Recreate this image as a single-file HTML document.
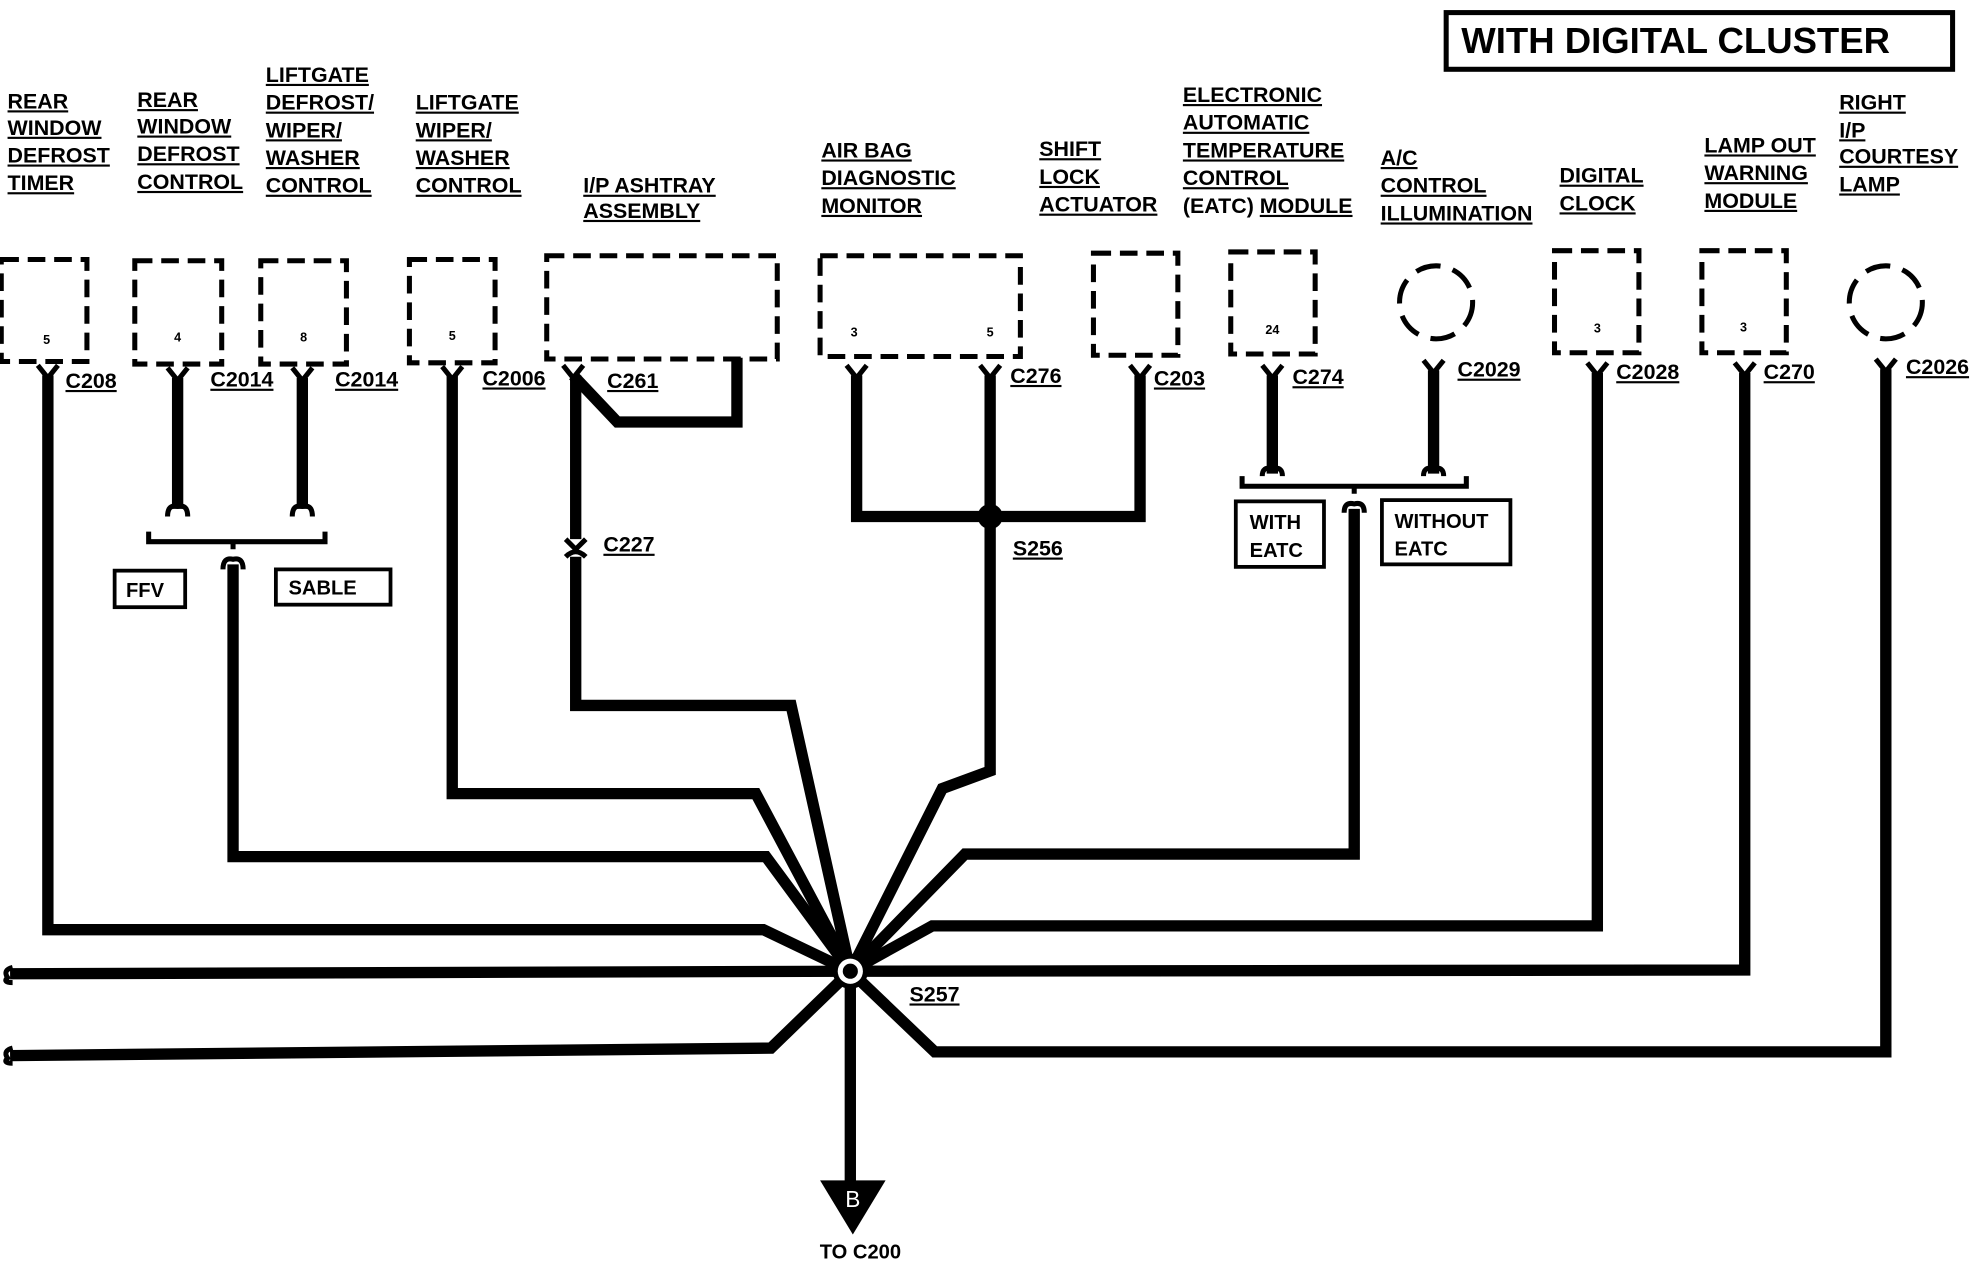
<!DOCTYPE html>
<html><head><meta charset="utf-8"><style>
html,body{margin:0;padding:0;background:#fff;}
svg{display:block;}
.l{font-family:"Liberation Sans Narrow","Liberation Sans",sans-serif;font-weight:bold;font-size:17px;text-decoration:underline;fill:#000;}
.n{font-family:"Liberation Sans",sans-serif;font-weight:bold;font-size:10px;fill:#000;text-anchor:middle;}
.b{font-family:"Liberation Sans Narrow","Liberation Sans",sans-serif;font-weight:bold;font-size:17px;fill:#000;}
.w{fill:none;stroke:#000;stroke-width:9;stroke-linejoin:miter;}
.d{fill:none;stroke:#000;stroke-width:4;stroke-dasharray:14,7;}
</style></head><body>
<svg width="1974" height="1264" viewBox="0 0 1567 1003.4" preserveAspectRatio="none" xmlns="http://www.w3.org/2000/svg">
<rect x="0" y="0" width="1567" height="1004" fill="#fff"/>
<rect x="1148" y="10" width="402" height="45" fill="none" stroke="#000" stroke-width="4"/>
<text x="1160" y="42" style="font-family:'Liberation Sans',sans-serif;font-weight:bold;font-size:29px">WITH DIGITAL CLUSTER</text>

<text class="l" x="6" y="86">REAR</text><text class="l" x="6" y="107">WINDOW</text><text class="l" x="6" y="129">DEFROST</text><text class="l" x="6" y="151">TIMER</text>
<text class="l" x="109" y="85">REAR</text><text class="l" x="109" y="106">WINDOW</text><text class="l" x="109" y="128">DEFROST</text><text class="l" x="109" y="150">CONTROL</text>
<text class="l" x="211" y="65">LIFTGATE</text><text class="l" x="211" y="87">DEFROST/</text><text class="l" x="211" y="109">WIPER/</text><text class="l" x="211" y="131">WASHER</text><text class="l" x="211" y="153">CONTROL</text>
<text class="l" x="330" y="87">LIFTGATE</text><text class="l" x="330" y="109">WIPER/</text><text class="l" x="330" y="131">WASHER</text><text class="l" x="330" y="153">CONTROL</text>
<text class="l" x="463" y="153">I/P ASHTRAY</text><text class="l" x="463" y="173">ASSEMBLY</text>
<text class="l" x="652" y="125">AIR BAG</text><text class="l" x="652" y="147">DIAGNOSTIC</text><text class="l" x="652" y="169">MONITOR</text>
<text class="l" x="825" y="124">SHIFT</text><text class="l" x="825" y="146">LOCK</text><text class="l" x="825" y="168">ACTUATOR</text>
<text class="l" x="939" y="81">ELECTRONIC</text><text class="l" x="939" y="103">AUTOMATIC</text><text class="l" x="939" y="125">TEMPERATURE</text><text class="l" x="939" y="147">CONTROL</text><text class="b" x="939" y="169">(EATC) <tspan text-decoration="underline">MODULE</tspan></text>
<text class="l" x="1096" y="131">A/C</text><text class="l" x="1096" y="153">CONTROL</text><text class="l" x="1096" y="175">ILLUMINATION</text>
<text class="l" x="1238" y="145">DIGITAL</text><text class="l" x="1238" y="167">CLOCK</text>
<text class="l" x="1353" y="121">LAMP OUT</text><text class="l" x="1353" y="143">WARNING</text><text class="l" x="1353" y="165">MODULE</text>
<text class="l" x="1460" y="87">RIGHT</text><text class="l" x="1460" y="109">I/P</text><text class="l" x="1460" y="130">COURTESY</text><text class="l" x="1460" y="152">LAMP</text>

<rect class="d" x="1" y="206" width="68" height="81"/><text class="n" x="37" y="273">5</text>
<rect class="d" x="107" y="207" width="69" height="82"/><text class="n" x="141" y="271">4</text>
<rect class="d" x="207" y="207" width="68" height="82"/><text class="n" x="241" y="271">8</text>
<rect class="d" x="325" y="206" width="68" height="82"/><text class="n" x="359" y="270">5</text>
<rect class="d" x="434" y="203" width="183" height="82"/>
<rect class="d" x="651" y="203" width="159" height="80"/><text class="n" x="678" y="267">3</text><text class="n" x="786" y="267">5</text>
<rect class="d" x="868" y="201" width="67" height="81"/>
<rect class="d" x="977" y="200" width="67" height="81"/><text class="n" x="1010" y="265">24</text>
<circle class="d" cx="1140" cy="240" r="29" style="stroke-dasharray:20,10"/>
<rect class="d" x="1234" y="199" width="67" height="81"/><text class="n" x="1268" y="264">3</text>
<rect class="d" x="1351" y="199" width="67" height="81"/><text class="n" x="1384" y="263">3</text>
<circle class="d" cx="1497" cy="240" r="29" style="stroke-dasharray:20,10"/>

<g fill="none" stroke="#000" stroke-width="4">
<path d="M30 290 L38 300 L46 290"/><path d="M133 292 L141 302 L149 292"/><path d="M232 292 L240 302 L248 292"/>
<path d="M351 291 L359 301 L367 291"/><path d="M447 290 L455 300 L463 290"/><path d="M672 290 L680 300 L688 290"/>
<path d="M778 290 L786 300 L794 290"/><path d="M897 290 L905 300 L913 290"/><path d="M1002 290 L1010 300 L1018 290"/>
<path d="M1130 286 L1138 296 L1146 286"/><path d="M1260 288 L1268 298 L1276 288"/><path d="M1377 288 L1385 298 L1393 288"/>
<path d="M1489 285 L1497 295 L1505 285"/>
<path d="M133 410 Q133 400 141 402 Q149 400 149 410"/><path d="M232 410 Q232 400 240 402 Q248 400 248 410"/>
<path d="M177 452 Q177 442 185 444 Q193 442 193 452"/>
<path d="M1002 378 Q1002 370 1010 372 Q1018 370 1018 378"/><path d="M1130 378 Q1130 370 1138 372 Q1146 370 1146 378"/>
<path d="M1067 407 Q1067 398 1075 400 Q1083 398 1083 407"/>
<path d="M449 428 L457 436 L465 428 M449 442 Q457 434 465 442"/>
<path d="M118 422 L118 430 L258 430 L258 422 M185 430 L185 436"/>
<path d="M986 378 L986 386 L1164 386 L1164 378 M1075 386 L1075 392"/>
<path d="M10 768 Q2 770 6 776 Q2 780 10 780" /><path d="M10 832 Q2 834 6 840 Q2 844 10 844"/>
</g>

<g class="w">
<path d="M38 298 L38 738 L606 738 L675 771"/>
<path d="M141 300 L141 404"/><path d="M240 300 L240 404"/>
<path d="M185 448 L185 680 L608 680 L675 771"/>
<path d="M359 298 L359 630 L600 630 L675 771"/>
<path d="M455 298 L490 335 L585 335 L585 284"/>
<path d="M457 298 L457 428"/>
<path d="M457 442 L457 560 L628 560 L675 771"/>
<path d="M680 298 L680 410 L905 410 L905 298"/>
<path d="M786 298 L786 612 L748 626 L675 771"/>
<path d="M1010 298 L1010 376"/><path d="M1138 294 L1138 376"/>
<path d="M1075 404 L1075 678 L766 678 L675 771"/>
<path d="M1268 296 L1268 735 L740 735 L675 771"/>
<path d="M1385 296 L1385 770 L675 771"/>
<path d="M1497 293 L1497 835 L742 835 L675 771"/>
<path d="M8 773 L675 771"/>
<path d="M8 838 L612 832 L675 771"/>
<path d="M675 771 L675 942"/>
</g>
<circle cx="786" cy="410" r="10" fill="#000"/>
<circle cx="675" cy="771" r="14" fill="#000"/><circle cx="675" cy="771" r="10" fill="#fff"/><circle cx="675" cy="771" r="6" fill="#000"/>
<polygon points="651,937 703,937 677,980" fill="#000"/>
<text x="677" y="958" text-anchor="middle" style="font-family:'Liberation Sans',sans-serif;font-size:18px;fill:#fff">B</text>
<text x="683" y="999" text-anchor="middle" class="b" style="font-size:16px">TO C200</text>

<rect x="91" y="453" width="56" height="29" fill="none" stroke="#000" stroke-width="3"/><text class="b" x="100" y="474" style="font-size:16px">FFV</text>
<rect x="219" y="452" width="91" height="28" fill="none" stroke="#000" stroke-width="3"/><text class="b" x="229" y="472" style="font-size:16px">SABLE</text>
<rect x="981" y="398" width="70" height="52" fill="none" stroke="#000" stroke-width="3"/><text class="b" x="992" y="420" style="font-size:16px">WITH</text><text class="b" x="992" y="442" style="font-size:16px">EATC</text>
<rect x="1097" y="397" width="102" height="51" fill="none" stroke="#000" stroke-width="3"/><text class="b" x="1107" y="419" style="font-size:16px">WITHOUT</text><text class="b" x="1107" y="441" style="font-size:16px">EATC</text>

<text class="l" x="52" y="308">C208</text><text class="l" x="167" y="307">C2014</text><text class="l" x="266" y="307">C2014</text>
<text class="l" x="383" y="306">C2006</text><text class="l" x="482" y="308">C261</text><text class="l" x="802" y="304">C276</text>
<text class="l" x="916" y="306">C203</text><text class="l" x="1026" y="305">C274</text><text class="l" x="1157" y="299">C2029</text>
<text class="l" x="1283" y="301">C2028</text><text class="l" x="1400" y="301">C270</text><text class="l" x="1513" y="297">C2026</text>
<text class="l" x="479" y="438">C227</text><text class="l" x="804" y="441">S256</text><text class="l" x="722" y="795">S257</text>
</svg>
</body></html>
